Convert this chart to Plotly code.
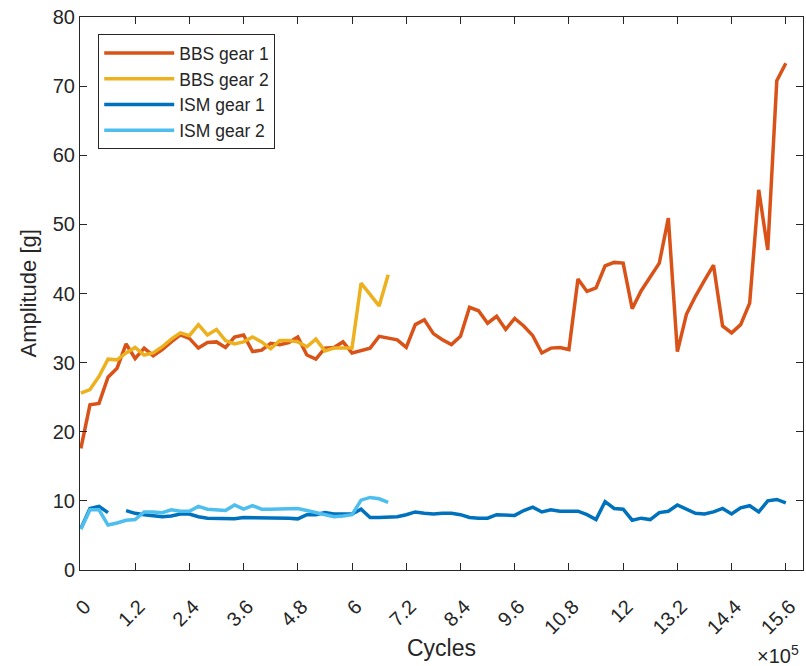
import plotly.graph_objects as go

# Cycles in units of 1e5
cycles_bbs1 = [0.0, 0.2, 0.4, 0.6, 0.8, 1.0, 1.2, 1.4, 1.6, 1.8, 2.0, 2.2, 2.4, 2.6, 2.8, 3.0,
               3.2, 3.4, 3.6, 3.8, 4.0, 4.2, 4.4, 4.6, 4.8, 5.0, 5.2, 5.4, 5.6, 5.8, 6.0, 6.2,
               6.4, 6.6, 6.8, 7.0, 7.2, 7.4, 7.6, 7.8, 8.0, 8.2, 8.4, 8.6, 8.8, 9.0, 9.2, 9.4,
               9.6, 9.8, 10.0, 10.2, 10.4, 10.6, 10.8, 11.0, 11.2, 11.4, 11.6, 11.8, 12.0, 12.2,
               12.4, 12.6, 12.8, 13.0, 13.2, 13.4, 13.6, 13.8, 14.0, 14.2, 14.4, 14.6, 14.8,
               15.0, 15.2, 15.4, 15.6]
amp_bbs1 = [17.6, 23.9, 24.1, 27.9, 29.2, 32.7, 30.6, 32.1, 31.0, 31.9, 33.0, 34.0, 33.5, 32.1,
            32.9, 33.0, 32.2, 33.7, 34.0, 31.6, 31.8, 32.8, 32.6, 32.9, 33.7, 31.1, 30.5, 32.1,
            32.2, 33.0, 31.4, 31.7, 32.1, 33.8, 33.5, 33.3, 32.2, 35.5, 36.2, 34.2, 33.3, 32.6,
            33.8, 38.0, 37.5, 35.7, 36.7, 34.8, 36.4, 35.3, 33.9, 31.4, 32.1, 32.2, 31.9, 42.1,
            40.3, 40.8, 44.0, 44.5, 44.4, 37.8, 40.4, 42.5, 44.4, 50.9, 31.6, 37.0, 39.6, 41.9,
            44.1, 35.3, 34.3, 35.5, 38.6, 55.0, 46.3, 70.8, 73.3]

cycles_bbs2 = [0.0, 0.2, 0.4, 0.6, 0.8, 1.0, 1.2, 1.4, 1.6, 1.8, 2.0, 2.2, 2.4, 2.6, 2.8, 3.0,
               3.2, 3.4, 3.6, 3.8, 4.0, 4.2, 4.4, 4.6, 4.8, 5.0, 5.2, 5.4, 5.6, 5.8, 6.0, 6.2,
               6.4, 6.6, 6.8]
amp_bbs2 = [25.6, 26.1, 28.0, 30.5, 30.4, 31.4, 32.2, 31.1, 31.4, 32.3, 33.4, 34.3, 33.9, 35.5,
            34.0, 34.8, 33.2, 32.7, 33.0, 33.7, 33.0, 32.0, 33.2, 33.2, 33.0, 32.3, 33.4, 31.7,
            32.1, 32.1, 32.1, 41.5, 39.8, 38.2, 42.7]

cycles_ism1 = cycles_bbs1
amp_ism1 = [6.0, 8.9, 9.2, 8.3, None, 8.6, 8.2, 8.0, 7.8, 7.7, 7.8, 8.1, 8.1, 7.7, 7.5, 7.5,
            7.5, 7.4, 7.6, 7.6, 7.6, 7.5, 7.6, 7.5, 7.4, 8.0, 8.0, 8.3, 8.1, 8.1, 8.1, 8.8,
            7.6, 7.6, 7.6, 7.7, 8.0, 8.4, 8.2, 8.1, 8.2, 8.2, 8.0, 7.6, 7.5, 7.5, 8.0, 8.0,
            7.9, 8.6, 9.1, 8.4, 8.7, 8.5, 8.5, 8.5, 8.0, 7.3, 9.9, 8.9, 8.8, 7.2, 7.5, 7.3,
            8.3, 8.5, 9.4, 8.8, 8.2, 8.1, 8.4, 8.9, 8.1, 9.0, 9.3, 8.4, 10.0, 10.2, 9.7]

cycles_ism2 = cycles_bbs2
amp_ism2 = [5.9, 8.7, 8.7, 6.5, 6.8, 7.2, 7.3, 8.4, 8.4, 8.3, 8.7, 8.5, 8.5, 9.2, 8.8, 8.7,
            8.6, 9.4, 8.8, 9.3, 8.8, 8.8, 8.8, 8.8, 8.9, 8.6, 8.3, 7.9, 7.7, 7.8, 8.0, 10.1,
            10.5, 10.3, 9.8]

series_names = ["BBS gear 1", "BBS gear 2", "ISM gear 1", "ISM gear 2"]
series_colors = ["#D95319", "#EDB120", "#0072BD", "#4DBEEE"]

x_tickvals = [0, 1.2, 2.4, 3.6, 4.8, 6.0, 7.2, 8.4, 9.6, 10.8, 12.0, 13.2, 14.4, 15.6]
x_ticktext = ["0", "1.2", "2.4", "3.6", "4.8", "6", "7.2", "8.4", "9.6", "10.8", "12",
              "13.2", "14.4", "15.6"]
y_tickvals = [0, 10, 20, 30, 40, 50, 60, 70, 80]

fig = go.Figure()
for xs, ys, name, col in zip([cycles_bbs1, cycles_bbs2, cycles_ism1, cycles_ism2],
                             [amp_bbs1, amp_bbs2, amp_ism1, amp_ism2],
                             series_names, series_colors):
    fig.add_trace(go.Scatter(x=xs, y=ys, mode="lines", name=name,
                             line=dict(color=col, width=3.5), connectgaps=False))

axis_col = "#262626"
font_family = "Liberation Sans, Arial, Helvetica, sans-serif"

fig.update_layout(
    width=806, height=666,
    margin=dict(l=79.5, r=3.3, t=17, b=96),
    paper_bgcolor="white", plot_bgcolor="white",
    font=dict(family=font_family, size=20, color=axis_col),
    showlegend=True,
    legend=dict(x=0.0252, y=0.969, xanchor="left", yanchor="top",
                bordercolor=axis_col, borderwidth=1, bgcolor="white",
                font=dict(size=17.5, color=axis_col), itemwidth=70,
                tracegroupgap=0),
    xaxis=dict(range=[-0.02, 15.98], tickvals=x_tickvals, ticktext=x_ticktext,
               tickangle=-45, ticks="inside", ticklen=7, tickcolor=axis_col,
               ticklabelstandoff=16, ticklabelshift=4,
               showline=True, linecolor=axis_col, linewidth=1, mirror="ticks",
               showgrid=False, zeroline=False,
               tickfont=dict(size=20, color=axis_col)),
    yaxis=dict(range=[0, 80], tickvals=y_tickvals,
               ticks="inside", ticklen=7, tickcolor=axis_col,
               showline=True, linecolor=axis_col, linewidth=1, mirror="ticks",
               showgrid=False, zeroline=False,
               tickfont=dict(size=20, color=axis_col)),
    annotations=[
        dict(text="Cycles", xref="paper", yref="paper", x=0.5, y=0,
             xanchor="center", yanchor="middle", yshift=-78, showarrow=False,
             font=dict(size=23, color=axis_col)),
        dict(text="Amplitude [g]", xref="paper", yref="paper", x=0, y=0.5,
             xanchor="center", yanchor="middle", xshift=-52, textangle=-90,
             showarrow=False, font=dict(size=22, color=axis_col)),
        dict(text="\u00d710<sup>5</sup>", xref="paper", yref="paper", x=1, y=0,
             xanchor="right", yanchor="middle", xshift=-2, yshift=-84,
             showarrow=False, font=dict(size=20, color=axis_col)),
    ],
)

fig.write_html("out.html")
